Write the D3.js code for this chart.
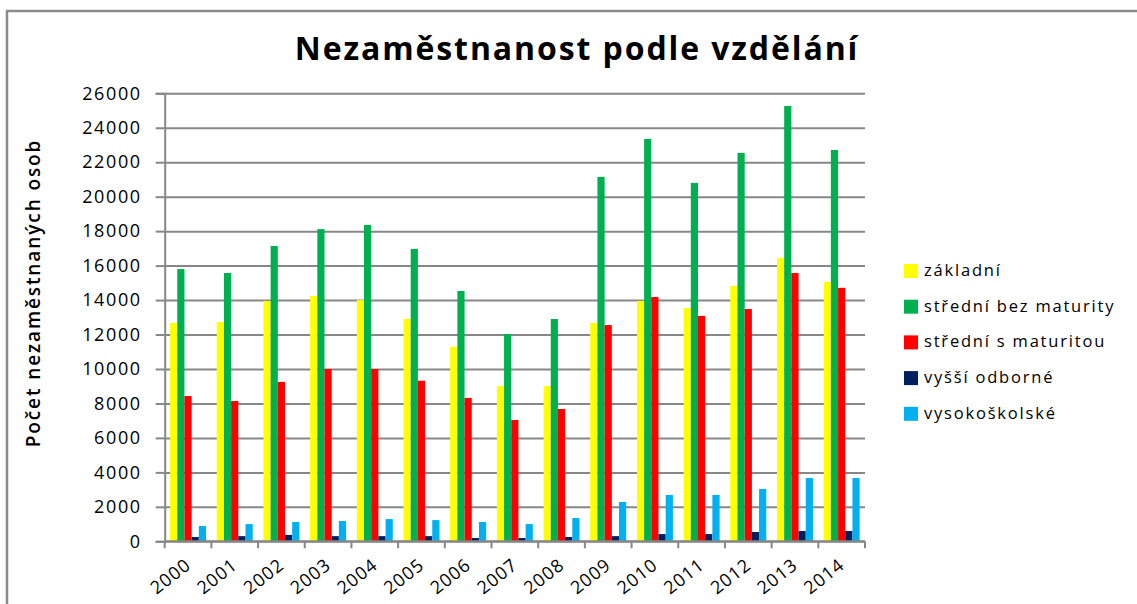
<!DOCTYPE html>
<html>
<head>
<meta charset="utf-8">
<script src="https://cdn.jsdelivr.net/npm/d3@7"></script>
<style>
    body { margin: 0; background: #fff; }
    text { font-family: 'Open Sans', sans-serif; fill: #000; }
</style>
</head>
<body>
<svg id="graf"></svg>
<script>
const roky = ['2000', '2001', '2002', '2003', '2004', '2005', '2006', '2007',
    '2008', '2009', '2010', '2011', '2012', '2013', '2014'];
const serie = ['základní', 'střední bez maturity', 'střední s maturitou', 'vyšší odborné', 'vysokoškolské'];

const zakladni = [12670, 12730, 13950, 14240, 14000, 12900, 11290, 9010, 9010, 12670, 13950, 13540, 14820, 16450, 15050];
const stredniBezMaturity = [15800, 15570, 17140, 18120, 18360, 16970, 14530, 12030, 12900, 21150, 23350, 20800, 22540, 25260, 22710];
const stredniSMaturitou = [8430, 8140, 9250, 10000, 10000, 9320, 8320, 7040, 7680, 12550, 14180, 13080, 13480, 15570, 14710];
const vyssiOdborne = [250, 300, 370, 300, 300, 300, 190, 190, 250, 300, 420, 420, 540, 600, 600];
const vysokoskolske = [890, 1000, 1120, 1180, 1290, 1230, 1120, 1000, 1350, 2280, 2690, 2690, 3040, 3670, 3670];

const popiskyY = [0, 2000, 4000, 6000, 8000, 10000, 12000, 14000, 16000, 18000, 20000, 22000, 24000, 26000];
const barvy = ['#ffff00', '#00b050', '#ff0000', '#002060', '#00b0f0'];

const hodnoty = [zakladni, stredniBezMaturity, stredniSMaturitou, vyssiOdborne, vysokoskolske];
const dados = roky.map((rok, i) => ({
    rok: rok,
    hodnoty: serie.map((s, j) => ({ serie: s, hodnota: hodnoty[j][i] }))
}));

let largura = 1137, altura = 604;
let margem = { esquerda: 164.7, direita: 272, superior: 93.3, inferior: 62.7 };
let larguraPlotagem = largura - margem.esquerda - margem.direita;
let alturaPlotagem = altura - margem.superior - margem.inferior;

let svg = d3.select('#graf')
    .attr('width', largura)
    .attr('height', altura);

svg.append('rect')
    .attr('x', 7).attr('y', 11)
    .attr('width', 1200).attr('height', 700)
    .attr('fill', '#fff')
    .attr('stroke', '#8c8c8c')
    .attr('stroke-width', 2.5);

svg.append('text')
    .attr('x', 577)
    .attr('y', 60)
    .style('text-anchor', 'middle')
    .style('font-size', '32px')
    .style('font-weight', 'bold')
    .style('letter-spacing', '1.9px')
    .text('Nezaměstnanost podle vzdělání');

svg.append('text')
    .attr('transform', 'translate(40, 293) rotate(-90)')
    .style('text-anchor', 'middle')
    .style('font-size', '19px')
    .style('font-weight', '600')
    .style('letter-spacing', '1.9px')
    .text('Počet nezaměstnaných osob');

let plotagem = svg.append('g')
    .attr('transform', 'translate(' + margem.esquerda + ',' + margem.superior + ')');

let fnX = d3.scaleBand()
    .domain(roky)
    .range([0, larguraPlotagem])
    .paddingInner(0.23)
    .paddingOuter(0.115);

let fnX1 = d3.scaleBand()
    .domain(serie)
    .range([0, fnX.bandwidth()]);

let fnY = d3.scaleLinear()
    .domain([0, 26000])
    .range([alturaPlotagem, 0]);

let fnCores = d3.scaleOrdinal().domain(serie).range(barvy);

// mrizka
let grade = d3.axisRight(fnY).tickValues(popiskyY).tickSize(larguraPlotagem).tickFormat('');
plotagem.append('g').attr('id', 'grade').call(grade)
    .call(g => g.select('.domain').remove())
    .call(g => g.selectAll('line').attr('stroke', '#878787').attr('stroke-width', 2));

let eixoY = d3.axisLeft(fnY).tickValues(popiskyY).tickSize(9).tickPadding(14).tickFormat(d => d);
plotagem.append('g').attr('id', 'eixoY').call(eixoY)
    .call(g => g.select('.domain').attr('stroke', '#878787').attr('stroke-width', 2))
    .call(g => g.selectAll('line').attr('stroke', '#878787').attr('stroke-width', 2))
    .call(g => g.selectAll('text')
        .style('font-family', "'Open Sans', sans-serif")
        .style('font-size', '18px')
        .style('letter-spacing', '1.6px')
        .attr('fill', '#000'));

let skupiny = plotagem.selectAll('.skupina').data(dados).enter().append('g')
    .classed('skupina', true)
    .attr('transform', d => 'translate(' + fnX(d.rok) + ',0)');

skupiny.selectAll('.barra').data(d => d.hodnoty).enter().append('rect')
    .classed('barra', true)
    .attr('x', d => fnX1(d.serie))
    .attr('y', d => fnY(d.hodnota))
    .attr('width', fnX1.bandwidth())
    .attr('height', d => alturaPlotagem - fnY(d.hodnota))
    .attr('fill', d => fnCores(d.serie));

// osa x
let eixoX = plotagem.append('g').attr('id', 'eixoX')
    .attr('transform', 'translate(0,' + alturaPlotagem + ')');

eixoX.append('line')
    .attr('x1', 0).attr('x2', larguraPlotagem)
    .attr('stroke', '#878787').attr('stroke-width', 2);

let hranice = roky.map(r => fnX(r) - fnX.step() * fnX.paddingInner() / 2).concat([larguraPlotagem]);
eixoX.selectAll('.tique').data(hranice).enter().append('line')
    .classed('tique', true)
    .attr('x1', d => d).attr('x2', d => d)
    .attr('y1', 0).attr('y2', 7)
    .attr('stroke', '#878787').attr('stroke-width', 2);

eixoX.selectAll('.rotulo').data(roky).enter().append('text')
    .classed('rotulo', true)
    .attr('transform', d => 'translate(' + (fnX(d) + fnX.bandwidth() / 2 + 4) + ',26) rotate(-38)')
    .style('text-anchor', 'end')
    .style('font-size', '18px')
    .style('letter-spacing', '1px')
    .text(d => d);

// legenda
let legenda = svg.append('g').attr('transform', 'translate(904,264)');
let polozky = legenda.selectAll('.polozka').data(serie).enter().append('g')
    .classed('polozka', true)
    .attr('transform', (d, i) => 'translate(0,' + (i * 35.7) + ')');

polozky.append('rect')
    .attr('width', 14).attr('height', 14)
    .attr('fill', d => fnCores(d));

polozky.append('text')
    .attr('x', 20)
    .attr('y', 12)
    .style('font-size', '16.5px')
    .style('letter-spacing', '1.8px')
    .text(d => d);
</script>
</body>
</html>
